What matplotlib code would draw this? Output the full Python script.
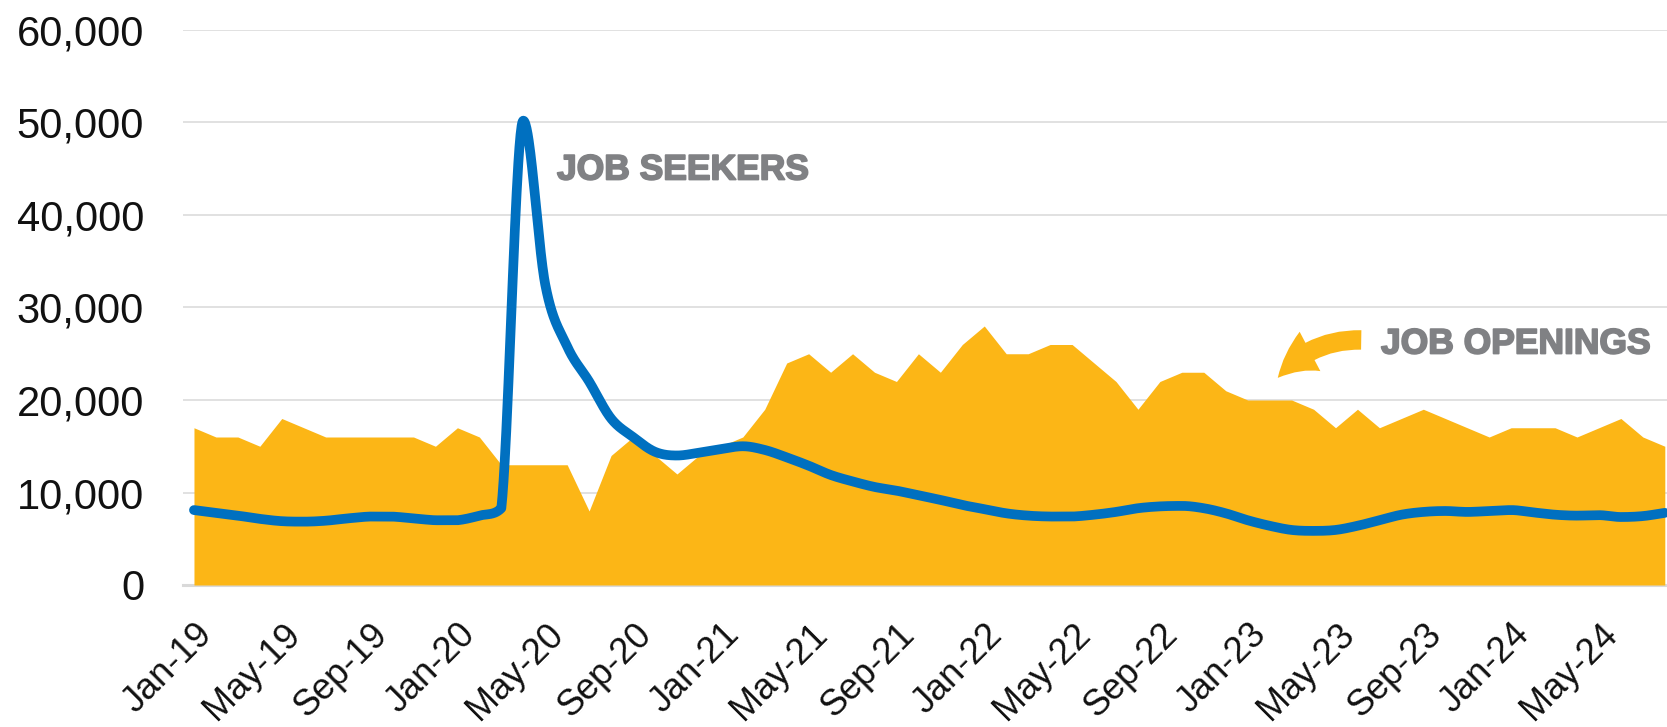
import numpy as np
import matplotlib
matplotlib.use("Agg")
import matplotlib.pyplot as plt
import matplotlib.patheffects as pe
from matplotlib.patches import FancyArrowPatch
from matplotlib.transforms import ScaledTranslation

plt.rcParams['font.family'] = ['Liberation Sans', 'DejaVu Sans']

# ---- data (monthly, Jan-2019 .. Aug-2024) ----
months = ["Jan", "Feb", "Mar", "Apr", "May", "Jun", "Jul", "Aug", "Sep", "Oct", "Nov", "Dec"]
years = [19, 20, 21, 22, 23, 24]
n_months = 68

job_openings = [
    17000, 16000, 16000, 15000, 18000, 17000, 16000, 16000, 16000, 16000, 16000, 15000,
    17000, 16000, 13000, 13000, 13000, 13000, 8000, 14000, 16000, 14000, 12000, 14000,
    15000, 16000, 19000, 24000, 25000, 23000, 25000, 23000, 22000, 25000, 23000, 26000,
    28000, 25000, 25000, 26000, 26000, 24000, 22000, 19000, 22000, 23000, 23000, 21000,
    20000, 20000, 20000, 19000, 17000, 19000, 17000, 18000, 19000, 18000, 17000, 16000,
    17000, 17000, 17000, 16000, 17000, 18000, 16000, 15000,
]

job_seekers = [
    8100, 7800, 7500, 7150, 6900, 6850, 6950, 7200, 7400, 7400, 7200, 7000,
    7000, 7500, 8300, 50200, 32500, 25800, 22000, 18000, 16000, 14400, 14000, 14300,
    14700, 15000, 14600, 13800, 12900, 11900, 11200, 10600, 10200, 9700, 9200, 8650,
    8200, 7750, 7500, 7400, 7400, 7600, 7900, 8300, 8500, 8550, 8300, 7750,
    7000, 6400, 5950, 5850, 5950, 6400, 7000, 7600, 7900, 8000, 7900, 8000,
    8100, 7850, 7600, 7500, 7550, 7350, 7450, 7800,
]

y_ticks = [0, 10000, 20000, 30000, 40000, 50000, 60000]

# ---- tick labels ----
all_labels = [f"{m}-{y}" for y in years for m in months][:n_months]
x = np.arange(n_months)
tick_pos = x[::4]
tick_labels = [all_labels[i] for i in tick_pos]


def smooth_curve(xs, ys, per_seg=40):
    """Bezier smoothing (Catmull-Rom style, no overshoot at extrema)."""
    xs = np.asarray(xs, float)
    ys = np.asarray(ys, float)
    n = len(ys)
    m = np.zeros(n)
    for i in range(n):
        if i == 0:
            m[i] = ys[1] - ys[0]
        elif i == n - 1:
            m[i] = ys[-1] - ys[-2]
        else:
            dl = ys[i] - ys[i - 1]
            dr = ys[i + 1] - ys[i]
            m[i] = 0.0 if dl * dr < 0 else (ys[i + 1] - ys[i - 1]) / 2
    px, py = [], []
    t = np.linspace(0, 1, per_seg, endpoint=False)
    for i in range(n - 1):
        d = abs(ys[i + 1] - ys[i])
        c1 = ys[i] + np.clip(m[i] / 3, -d, d)
        c2 = ys[i + 1] - np.clip(m[i + 1] / 3, -d, d)
        b0 = (1 - t) ** 3
        b1 = 3 * (1 - t) ** 2 * t
        b2 = 3 * (1 - t) * t ** 2
        b3 = t ** 3
        px.append(xs[i] + t * (xs[i + 1] - xs[i]))
        py.append(b0 * ys[i] + b1 * c1 + b2 * c2 + b3 * ys[i + 1])
    px.append([xs[-1]])
    py.append([ys[-1]])
    return np.concatenate(px), np.concatenate(py)


W, H = 1667, 727
fig = plt.figure(figsize=(W / 100, H / 100), dpi=100)
ax = fig.add_axes([183 / W, (H - 585) / H, (W - 183) / W, 555 / H])

orange = '#FCB616'
blue = '#0070C0'
gray_txt = '#808184'

ax.fill_between(x, job_openings, 0, color=orange, lw=0, zorder=2)
sx, sy = smooth_curve(x, job_seekers)
ax.plot(sx, sy, color=blue, lw=7, solid_capstyle='round', solid_joinstyle='round', zorder=3)

ax.set_xlim(-0.5, 67.1)
ax.set_ylim(0, 60000)
ax.set_yticks(y_ticks)
ax.set_yticklabels([f"{v:,}" for v in y_ticks], fontsize=30, color='#111111')
ax.set_xticks(tick_pos)
ax.set_xticklabels(tick_labels, fontsize=26, rotation=45, ha='right', va='center',
                   rotation_mode='anchor', color='#111111')
ax.tick_params(axis='x', length=0, pad=32)
ax.tick_params(axis='y', length=0, pad=28)
for lab in ax.get_xticklabels():
    lab.set_transform(lab.get_transform() + ScaledTranslation(0.13, 0, fig.dpi_scale_trans))

ax.grid(axis='y', color='#dcdcdc', lw=1.2, zorder=0)
ax.set_axisbelow(True)
for s in ['top', 'right', 'left']:
    ax.spines[s].set_visible(False)
ax.spines['bottom'].set_color('#d9d9d9')
ax.spines['bottom'].set_linewidth(2.2)
ax.spines['bottom'].set_zorder(1)

thick = [pe.withStroke(linewidth=1.3, foreground=gray_txt)]
fig.text(557 / W, 1 - 170 / H, "JOB SEEKERS", fontsize=25.5, fontweight='bold',
         color=gray_txt, ha='left', va='center', path_effects=thick)
fig.text(1381 / W, 1 - 344 / H, "JOB OPENINGS", fontsize=25.5, fontweight='bold',
         color=gray_txt, ha='left', va='center', path_effects=thick)

arrow = FancyArrowPatch((1364 / W, 1 - 340 / H), (1276 / W, 1 - 380 / H),
                        transform=fig.transFigure,
                        connectionstyle="arc3,rad=0.25",
                        arrowstyle="simple,head_length=1.5,head_width=1.6,tail_width=0.7",
                        mutation_scale=20, color=orange, lw=0)
fig.patches.append(arrow)

fig.savefig("out.png", dpi=100)
